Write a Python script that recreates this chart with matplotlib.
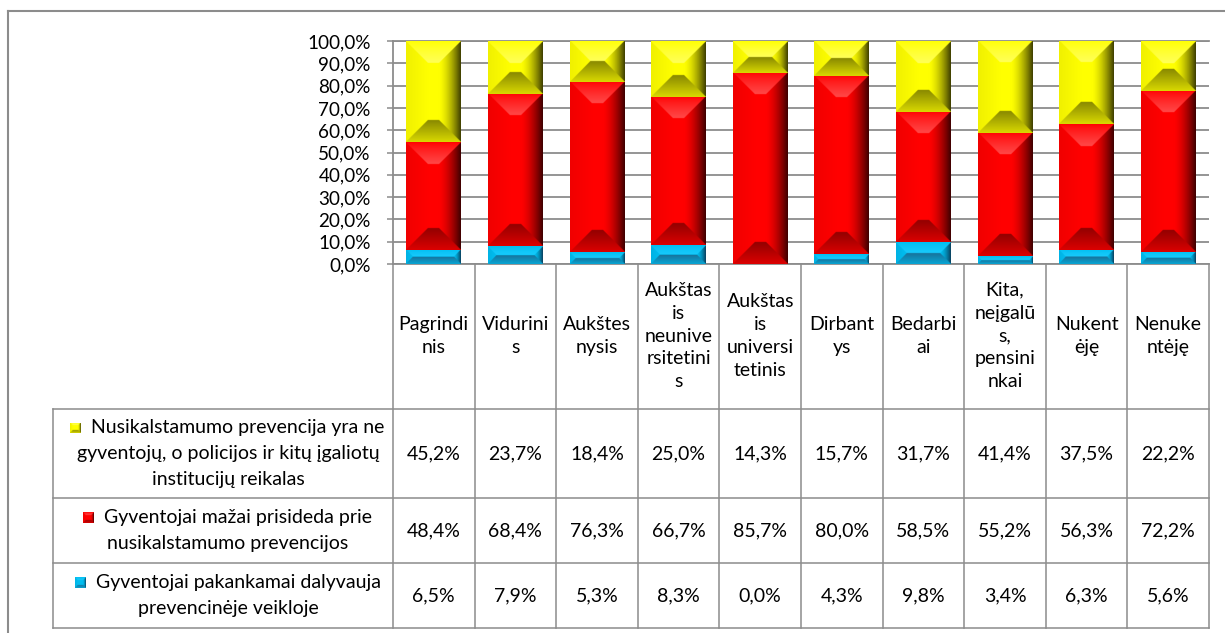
import numpy as np
import matplotlib.pyplot as plt
from matplotlib import transforms
from matplotlib.lines import Line2D

plt.rcParams['font.family'] = ['Lato', 'DejaVu Sans']

# Survey shares (%) by respondent group
categories = ['Pagrindi\nnis', 'Vidurini\ns', 'Aukštes\nnysis',
              'Aukštas\nis\nneunive\nrsitetini\ns', 'Aukštas\nis\nuniversi\ntetinis',
              'Dirbant\nys', 'Bedarbi\nai', 'Kita,\nneįgalū\ns,\npensini\nnkai',
              'Nukent\nėję', 'Nenuke\nntėję']
not_residents = [45.2, 23.7, 18.4, 25.0, 14.3, 15.7, 31.7, 41.4, 37.5, 22.2]
little_contrib = [48.4, 68.4, 76.3, 66.7, 85.7, 80.0, 58.5, 55.2, 56.3, 72.2]
enough_partic = [6.5, 7.9, 5.3, 8.3, 0.0, 4.3, 9.8, 3.4, 6.3, 5.6]

series_labels = ['Nusikalstamumo prevencija yra ne\ngyventojų, o policijos ir kitų įgaliotų\ninstitucijų reikalas',
                 'Gyventojai mažai prisideda prie\nnusikalstamumo prevencijos',
                 'Gyventojai pakankamai dalyvauja\nprevencinėje veikloje']
series_values = [not_residents, little_contrib, enough_partic]

# bevel palettes: base, top face, bottom face, left face, right face
pal_yellow = [(255, 255, 0), (255, 255, 110), (130, 130, 0), (230, 230, 0), (60, 60, 0)]
pal_red = [(255, 0, 0), (255, 90, 90), (140, 0, 0), (230, 0, 0), (60, 0, 0)]
pal_blue = [(0, 190, 240), (30, 205, 255), (25, 110, 150), (0, 170, 220), (10, 60, 90)]
palettes = [pal_yellow, pal_red, pal_blue]

grey = '#8c8c8c'
W, H = 1225, 633
FS = 14


def fx(px):
    return px / W


def fy(py):
    return 1 - py / H


def bevel(h_px, w_px, pal, depth):
    h = max(int(round(h_px * 2)), 1)
    w = max(int(round(w_px * 2)), 1)
    dep = max(min(depth * 2, h / 2, w / 2), 0.5)
    Y, X = np.mgrid[0:h, 0:w] + 0.5
    d = np.stack([Y, h - Y, X, w - X])
    face = d.argmin(0)
    t = np.clip(1 - d.min(0) / dep, 0, 1)   # 1 at outer edge, 0 at inner edge
    inside = d.min(0) < dep
    base, top, bot, left, right = [np.array(c, float) / 255 for c in pal]
    img = np.tile(base, (h, w, 1))
    amt = np.zeros((h, w))
    target = np.tile(base, (h, w, 1))
    faces = [(top, 0.8 * (1 - t) ** 0.8),
             (bot, 0.3 + 0.65 * (1 - t)),
             (left, 0.6 * t),
             (right, t ** 1.6)]
    for k, (col, a) in enumerate(faces):
        m = inside & (face == k)
        target[m] = col
        amt[m] = a[m]
    return img + (target - img) * amt[..., None]


fig = plt.figure(figsize=(12.25, 6.33), dpi=100)
ax = fig.add_axes([fx(393), fy(264), fx(1209) - fx(393), fy(41) - fy(264)])

x = np.arange(len(categories))
bar_w = 0.67
ax.set_xlim(-0.5, len(categories) - 0.5)
ax.set_ylim(0, 100)
px_x = fig.bbox.width * ax.get_position().width / len(categories)
px_y = fig.bbox.height * ax.get_position().height / 100

# stacked bars, bottom series first
bottom = np.zeros(len(categories))
for vals, pal in zip(series_values[::-1], palettes[::-1]):
    for i, v in enumerate(vals):
        if v <= 0:
            continue
        img = bevel(v * px_y, bar_w * px_x, pal, 22)
        ax.imshow(img, extent=(i - bar_w / 2, i + bar_w / 2, bottom[i], bottom[i] + v),
                  aspect='auto', origin='upper', zorder=3, interpolation='bilinear')
    bottom += np.array(vals)

ax.set_xlim(-0.5, len(categories) - 0.5)
ax.set_ylim(0, 100)
ax.set_yticks(range(0, 101, 10))
ax.set_yticklabels([f'{v:.1f}%'.replace('.', ',') for v in range(0, 101, 10)], fontsize=13.6)
ax.set_xticks([])
ax.yaxis.grid(True, color=grey, lw=1.3)
ax.set_axisbelow(True)
ax.tick_params(axis='y', length=4.5, width=1.1, color=grey, pad=11.5)
for side in ['left', 'top', 'bottom']:
    ax.spines[side].set_color(grey)
    ax.spines[side].set_linewidth(1.3)
ax.spines['right'].set_visible(False)

# data table below the plot
tr = transforms.blended_transform_factory(ax.transData, fig.transFigure)
row_edges = [409, 498, 563, 628]
for k in range(len(categories) + 1):
    fig.add_artist(Line2D([k - 0.5, k - 0.5], [fy(264), fy(628)], transform=tr,
                          color=grey, lw=1.1))
for py in row_edges:
    fig.add_artist(Line2D([fx(53), fx(1209)], [fy(py), fy(py)], transform=fig.transFigure,
                          color=grey, lw=1.1))
fig.add_artist(Line2D([fx(53), fx(53)], [fy(409), fy(628)], transform=fig.transFigure,
                      color=grey, lw=1.1))

# outer chart border
fig.add_artist(Line2D([fx(8), fx(8)], [fy(11), 0], transform=fig.transFigure, color=grey, lw=1.5))
fig.add_artist(Line2D([fx(8), 1], [fy(11), fy(11)], transform=fig.transFigure, color=grey, lw=1.5))

for i, c in enumerate(categories):
    fig.text(i, fy(336), c, transform=tr, ha='center', va='center',
             multialignment='center', fontsize=FS, linespacing=1.42)

renderer = fig.canvas.get_renderer()
line_h = 25.5
key = 11
for r, (lab, vals, pal) in enumerate(zip(series_labels, series_values, palettes)):
    cy = (row_edges[r] + row_edges[r + 1]) / 2
    for i, v in enumerate(vals):
        fig.text(i, fy(cy), f'{v:.1f}%'.replace('.', ','), transform=tr,
                 ha='center', va='center', fontsize=FS)
    lines = lab.split('\n')
    n = len(lines)
    for k, ln in enumerate(lines):
        ly = cy + (k - (n - 1) / 2) * line_h
        cx = 228 + (10 if k == 0 else 0)
        t = fig.text(fx(cx), fy(ly), ln, ha='center', va='center', fontsize=FS)
        if k == 0:
            bb = t.get_window_extent(renderer)
            kx = bb.x0 - 10 - key
            kax = fig.add_axes([kx / W, fy(ly + key / 2), key / W, key / H])
            kax.imshow(bevel(key, key, pal, 3), aspect='auto', interpolation='bilinear')
            kax.axis('off')

fig.savefig('out.png', dpi=100)
